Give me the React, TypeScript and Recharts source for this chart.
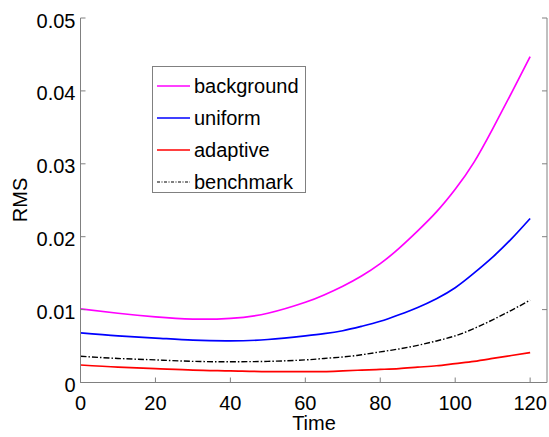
import React from "react";
import { Legend, Line, LineChart, XAxis, YAxis } from "recharts";

const time = [0, 10, 20, 30, 40, 50, 60, 65, 70, 75, 80, 85, 90, 95, 100, 105, 110, 115, 120];
const background = [0.0101, 0.0095, 0.009, 0.0087, 0.0088, 0.0095, 0.011, 0.012, 0.0132, 0.0146, 0.0163, 0.0184, 0.0208, 0.0234, 0.0265, 0.0302, 0.0348, 0.0397, 0.0447];
const uniform = [0.0068, 0.0064, 0.0061, 0.0058, 0.0057, 0.0059, 0.0064, 0.0067, 0.0071, 0.0077, 0.0084, 0.0093, 0.0103, 0.0115, 0.013, 0.015, 0.0172, 0.0197, 0.0225];
const adaptive = [0.0024, 0.0021, 0.0019, 0.0017, 0.0016, 0.0015, 0.0015, 0.0015, 0.0016, 0.0017, 0.0018, 0.0019, 0.0021, 0.0023, 0.0026, 0.0029, 0.0033, 0.0037, 0.0041];
const benchmark = [0.0036, 0.0033, 0.0031, 0.0029, 0.00285, 0.0029, 0.0031, 0.0033, 0.0035, 0.0038, 0.0042, 0.0046, 0.0051, 0.0057, 0.0064, 0.0074, 0.0086, 0.0099, 0.0113];

const xTicks = [0, 20, 40, 60, 80, 100, 120];
const yTicks = [0, 0.01, 0.02, 0.03, 0.04, 0.05];

const series = [
  { key: "background", color: "#ff00ff", dash: undefined },
  { key: "uniform", color: "#0000ff", dash: undefined },
  { key: "adaptive", color: "#ff0000", dash: undefined },
  { key: "benchmark", color: "#000000", dash: "6 2 1.5 2" },
];

const data = time.map((t, i) => ({
  time: t,
  background: background[i],
  uniform: uniform[i],
  adaptive: adaptive[i],
  benchmark: benchmark[i],
}));

const FONT = '"Liberation Sans", Arial, sans-serif';
const AXIS = "#808080";
const TICK = 5;

function BottomTick({ x, y, payload }: any) {
  return (
    <g>
      <line x1={x} x2={x} y1={y} y2={y - TICK} stroke={AXIS} />
      <text x={x} y={y + 20} textAnchor="middle" dominantBaseline="central" fontSize={20} fontFamily={FONT} fill="#000">
        {payload.value}
      </text>
    </g>
  );
}

function TopTick({ x, y }: any) {
  return <line x1={x} x2={x} y1={y} y2={y + TICK} stroke={AXIS} />;
}

function LeftTick({ x, y, payload }: any) {
  return (
    <g>
      <line x1={x} x2={x + TICK} y1={y} y2={y} stroke={AXIS} />
      <text x={x - 5} y={y + 2.5} textAnchor="end" dominantBaseline="central" fontSize={20} fontFamily={FONT} fill="#000">
        {String(payload.value)}
      </text>
    </g>
  );
}

function RightTick({ x, y }: any) {
  return <line x1={x} x2={x - TICK} y1={y} y2={y} stroke={AXIS} />;
}

function LegendBox() {
  return (
    <div
      style={{
        border: `1px solid ${AXIS}`,
        background: "#fff",
        width: 154,
        height: 127,
        paddingTop: 3,
        boxSizing: "border-box",
        fontFamily: FONT,
        fontSize: 20,
        color: "#000",
      }}
    >
      {series.map((s) => (
        <div key={s.key} style={{ display: "flex", alignItems: "center", height: 32 }}>
          <svg width={33} height={4} style={{ marginLeft: 4, marginRight: 4 }}>
            <line x1={0} x2={33} y1={2} y2={2} stroke={s.color} strokeWidth={s.dash ? 1.1 : 1.5} strokeDasharray={s.dash ? "3 1.5 1 1.5" : undefined} />
          </svg>
          <span>{s.key}</span>
        </div>
      ))}
    </div>
  );
}

export default function App() {
  return (
    <div style={{ position: "fixed", left: 0, top: 0, width: 549, height: 437, background: "#fff" }}>
      <LineChart width={549} height={437} data={data} margin={{ top: 18, right: 1, left: 0, bottom: 0 }}>
        <XAxis
          dataKey="time"
          type="number"
          domain={[0, 124.5]}
          ticks={xTicks}
          allowDataOverflow
          height={54.5}
          tickSize={0}
          tickMargin={0}
          tickLine={false}
          axisLine={{ stroke: AXIS }}
          tick={<BottomTick />}
          interval={0}
        />
        <XAxis
          xAxisId="top"
          orientation="top"
          type="number"
          domain={[0, 124.5]}
          ticks={xTicks}
          allowDataOverflow
          height={0}
          tickSize={0}
          tickMargin={0}
          tickLine={false}
          axisLine={{ stroke: AXIS }}
          tick={<TopTick />}
          interval={0}
        />
        <YAxis
          type="number"
          domain={[0, 0.05]}
          ticks={yTicks}
          allowDataOverflow
          width={80.5}
          tickSize={0}
          tickMargin={0}
          tickLine={false}
          axisLine={{ stroke: AXIS }}
          tick={<LeftTick />}
          interval={0}
          label={{
            content: () => (
              <text x={20} y={200} transform="rotate(-90 20 200)" textAnchor="middle" dominantBaseline="central" fontSize={20} fontFamily={FONT} fill="#000">
                RMS
              </text>
            ),
          }}
        />
        <YAxis
          yAxisId="right"
          orientation="right"
          type="number"
          domain={[0, 0.05]}
          ticks={yTicks}
          allowDataOverflow
          width={1}
          tickSize={0}
          tickMargin={0}
          tickLine={false}
          axisLine={{ stroke: AXIS }}
          tick={<RightTick />}
          interval={0}
        />
        <Legend
          layout="horizontal"
          verticalAlign="middle"
          align="center"
          content={() => <LegendBox />}
          wrapperStyle={{ left: 152, top: 66, width: "auto", height: "auto" }}
        />
        {series.map((s) => (
          <Line
            key={s.key}
            dataKey={s.key}
            type="natural"
            stroke={s.color}
            strokeWidth={s.dash ? 1.4 : 1.7}
            strokeDasharray={s.dash}
            dot={false}
            activeDot={false}
            isAnimationActive={false}
          />
        ))}
        <text x={314} y={423} textAnchor="middle" dominantBaseline="central" fontSize={20} fontFamily={FONT} fill="#000">
          Time
        </text>
      </LineChart>
    </div>
  );
}
